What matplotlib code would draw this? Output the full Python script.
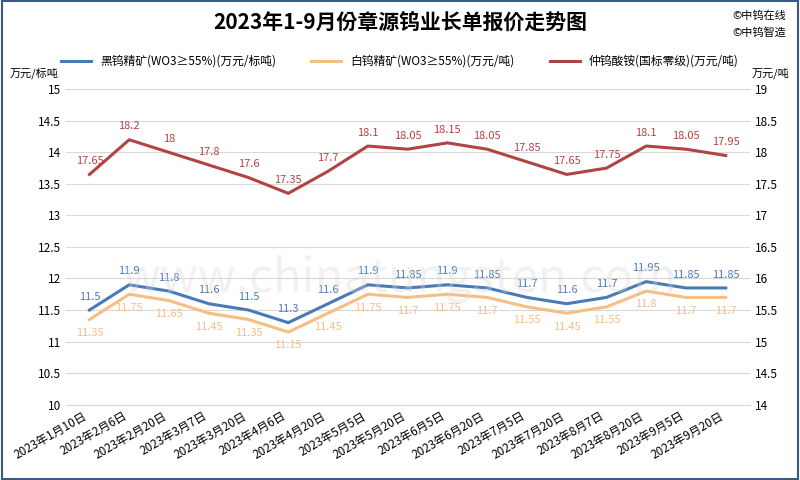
import matplotlib.pyplot as plt
import numpy as np

plt.rcParams['font.family'] = ['sans-serif']
plt.rcParams['font.sans-serif'] = ['Noto Sans CJK JP', 'Noto Sans CJK SC', 'Noto Sans CJK TC',
                                   'Noto Sans CJK KR', 'DejaVu Sans']

dates = ['2023年1月10日', '2023年2月6日', '2023年2月20日', '2023年3月7日', '2023年3月20日',
         '2023年4月6日', '2023年4月20日', '2023年5月5日', '2023年5月20日', '2023年6月5日',
         '2023年6月20日', '2023年7月5日', '2023年7月20日', '2023年8月7日', '2023年8月20日',
         '2023年9月5日', '2023年9月20日']
black = [11.5, 11.9, 11.8, 11.6, 11.5, 11.3, 11.6, 11.9, 11.85, 11.9, 11.85, 11.7, 11.6, 11.7, 11.95, 11.85, 11.85]
white = [11.35, 11.75, 11.65, 11.45, 11.35, 11.15, 11.45, 11.75, 11.7, 11.75, 11.7, 11.55, 11.45, 11.55, 11.8, 11.7, 11.7]
apt = [17.65, 18.2, 18, 17.8, 17.6, 17.35, 17.7, 18.1, 18.05, 18.15, 18.05, 17.85, 17.65, 17.75, 18.1, 18.05, 17.95]

c_black = '#4a7ab5'
c_white = '#f7be84'
c_apt = '#b04444'

fig = plt.figure(figsize=(8, 4.8), dpi=100)
ax = fig.add_axes([0.082, 0.157, 0.855, 0.657])
ax2 = ax.twinx()
x = np.arange(len(dates))

l1, = ax.plot(x, black, color=c_black, lw=2.2, label='黑钨精矿(WO3≥55%)(万元/标吨)')
l2, = ax.plot(x, white, color=c_white, lw=2.2, label='白钨精矿(WO3≥55%)(万元/吨)')
l3, = ax2.plot(x, apt, color=c_apt, lw=2.2, label='仲钨酸铵(国标零级)(万元/吨)')

def fmt(v):
    return ('%g' % v)

for i in x:
    ax.annotate(fmt(black[i]), (i, black[i]), xytext=(0, 6), textcoords='offset points',
                ha='center', va='bottom', fontsize=8, color=c_black)
    ax.annotate(fmt(white[i]), (i, white[i]), xytext=(0, -6), textcoords='offset points',
                ha='center', va='top', fontsize=8, color=c_white)
    ax2.annotate(fmt(apt[i]), (i, apt[i]), xytext=(0, 6), textcoords='offset points',
                 ha='center', va='bottom', fontsize=8, color=c_apt)

ax.set_ylim(10, 15)
ax.set_yticks(np.arange(10, 15.01, 0.5))
ax.set_yticklabels([fmt(v) for v in np.arange(10, 15.01, 0.5)])
ax2.set_ylim(14, 19)
ax2.set_yticks(np.arange(14, 19.01, 0.5))
ax2.set_yticklabels([fmt(v) for v in np.arange(14, 19.01, 0.5)])
ax.set_xlim(-0.6, len(dates) - 0.4)
ax.set_xticks(x)
ax.set_xticklabels(dates, rotation=30, ha='right', fontsize=8.5)
ax.grid(axis='y', color='#d9d9d9', lw=0.8)
ax.set_axisbelow(True)
for a in (ax, ax2):
    a.tick_params(axis='y', labelsize=8.5, length=0)
    a.tick_params(axis='x', length=0)
    for s in a.spines.values():
        s.set_visible(False)
ax.spines['bottom'].set_visible(True)
ax.spines['bottom'].set_color('#d9d9d9')

fig.text(0.5, 0.955, '2023年1-9月份章源钨业长单报价走势图', ha='center', va='center',
         fontsize=15, fontweight='bold')
fig.text(0.983, 0.968, '©中钨在线', ha='right', va='center', fontsize=8)
fig.text(0.983, 0.932, '©中钨智造', ha='right', va='center', fontsize=8)
fig.text(0.012, 0.84, '万元/标吨', fontsize=8)
fig.text(0.94, 0.84, '万元/吨', fontsize=8)
fig.text(0.5, 0.42, 'www.chinatungsten.com', ha='center', va='center', fontsize=34,
         color='#d8d8d8', alpha=0.35, zorder=0)
fig.legend(handles=[l1, l2, l3], loc='center', bbox_to_anchor=(0.5, 0.872), ncol=3,
           frameon=False, fontsize=8.5, handlelength=2.5, columnspacing=3)

fig.patches.append(plt.Rectangle((0.002, 0.003), 0.996, 0.994, transform=fig.transFigure,
                                 fill=False, ec='#3a5a8a', lw=1.5))
fig.savefig('out.png')
